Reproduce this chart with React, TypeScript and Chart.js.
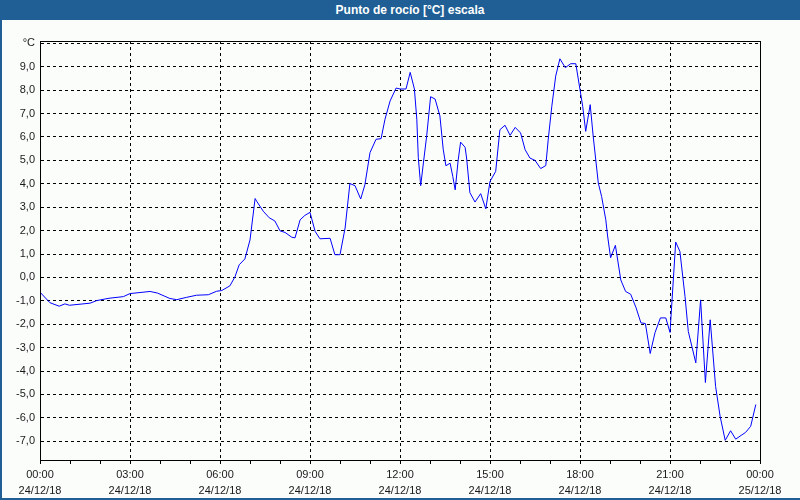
import React, { useEffect, useRef } from "react";
import { Chart, registerables } from "chart.js";

Chart.register(...registerables);

const titleText = "Punto de rocío [°C] escala";

// hours since 24/12/18 00:00
const hours = [
  0.0, 0.33, 0.64, 0.83, 0.98, 1.67, 1.89, 2.3, 2.78, 3.0, 3.67, 3.92, 4.33, 4.56, 4.89, 5.22, 5.61, 5.89,
  6.06, 6.33, 6.5, 6.64, 6.83, 7.0, 7.17, 7.22, 7.44, 7.64, 7.83, 8.0, 8.17, 8.39, 8.5, 8.67, 8.83, 9.0,
  9.17, 9.33, 9.67, 9.83, 10.0, 10.17, 10.33, 10.5, 10.69, 10.83, 11.0, 11.2, 11.37, 11.5, 11.67, 11.87,
  12.0, 12.2, 12.34, 12.48, 12.56, 12.61, 12.69, 12.78, 12.89, 13.02, 13.17, 13.33, 13.44, 13.53, 13.67,
  13.76, 13.84, 13.94, 14.02, 14.17, 14.22, 14.33, 14.5, 14.69, 14.86, 15.0, 15.19, 15.33, 15.5, 15.67,
  15.84, 16.02, 16.17, 16.33, 16.5, 16.69, 16.86, 16.94, 17.06, 17.19, 17.33, 17.51, 17.69, 17.86, 18.0,
  18.09, 18.19, 18.34, 18.44, 18.61, 18.72, 18.86, 18.92, 19.02, 19.18, 19.36, 19.52, 19.69, 19.87, 20.03,
  20.18, 20.34, 20.5, 20.68, 20.86, 21.0, 21.19, 21.33, 21.5, 21.61, 21.86, 22.02, 22.18, 22.34, 22.52,
  22.67, 22.84, 23.02, 23.19, 23.37, 23.52, 23.69, 23.86,
];

const dewPoint = [
  -0.63, -1.08, -1.23, -1.13, -1.19, -1.1, -0.99, -0.89, -0.82, -0.69, -0.6, -0.67, -0.9, -0.95, -0.85,
  -0.76, -0.74, -0.59, -0.56, -0.36, 0.03, 0.54, 0.79, 1.6, 3.37, 3.26, 2.83, 2.55, 2.41, 1.99, 1.92, 1.72,
  1.69, 2.46, 2.65, 2.78, 1.97, 1.65, 1.67, 0.97, 0.97, 2.11, 4.01, 3.92, 3.35, 3.96, 5.33, 5.9, 5.93, 6.76,
  7.54, 8.09, 8.05, 8.05, 8.76, 8.05, 6.76, 5.12, 3.92, 4.89, 6.05, 7.72, 7.62, 6.9, 5.48, 4.77, 4.88, 4.31,
  3.74, 5.02, 5.78, 5.56, 5.1, 3.62, 3.22, 3.58, 2.93, 4.1, 4.53, 6.31, 6.5, 6.07, 6.41, 6.17, 5.46, 5.1,
  5.0, 4.65, 4.78, 5.88, 7.31, 8.6, 9.34, 8.96, 9.13, 9.13, 8.02, 7.31, 6.24, 7.38, 6.03, 4.03, 3.46, 2.46,
  1.77, 0.84, 1.37, -0.11, -0.6, -0.72, -1.3, -1.94, -1.97, -3.25, -2.36, -1.73, -1.73, -2.35, 1.51, 1.11,
  -0.81, -2.31, -3.65, -0.96, -4.49, -1.81, -4.66, -5.93, -6.96, -6.55, -6.91, -6.75, -6.62, -6.36, -5.43,
];

const xTickHours = [0, 3, 6, 9, 12, 15, 18, 21, 24];
const xTickTimes = ["00:00", "03:00", "06:00", "09:00", "12:00", "15:00", "18:00", "21:00", "00:00"];
const xTickDates = ["24/12/18", "24/12/18", "24/12/18", "24/12/18", "24/12/18", "24/12/18", "24/12/18", "24/12/18", "25/12/18"];
const yTickValues = [-7, -6, -5, -4, -3, -2, -1, 0, 1, 2, 3, 4, 5, 6, 7, 8, 9, 10];
const yUnitLabel = "°C";

const FONT = "'Liberation Sans', Arial, sans-serif";
const BLUE_FRAME = "#1f5f95";
const BG = "#fbfdfb";

const boxPlugin = {
  id: "plotBox",
  afterDraw(chart: any) {
    const { ctx, chartArea } = chart;
    ctx.save();
    ctx.strokeStyle = "#000";
    ctx.lineWidth = 1;
    ctx.setLineDash([]);
    const l = Math.round(chartArea.left) + 0.5;
    const t = Math.round(chartArea.top) + 0.5;
    const r = Math.round(chartArea.right) + 0.5;
    const b = Math.round(chartArea.bottom) + 0.5;
    ctx.strokeRect(l, t, r - l, b - t);
    ctx.restore();
  },
};

export default function App() {
  const canvasRef = useRef<HTMLCanvasElement | null>(null);

  useEffect(() => {
    const canvas = canvasRef.current;
    if (!canvas) return;
    const points = hours.map((h, i) => ({ x: h, y: dewPoint[i] }));
    const chart = new Chart(canvas, {
      type: "line",
      data: {
        datasets: [
          {
            data: points,
            borderColor: "#0000ff",
            borderWidth: 1,
            pointRadius: 0,
            tension: 0,
            fill: false,
          },
        ],
      },
      options: {
        animation: false,
        responsive: false,
        maintainAspectRatio: false,
        parsing: false,
        layout: { padding: { top: 21, right: 40, bottom: 0, left: 0 } },
        plugins: {
          legend: { display: false },
          tooltip: { enabled: false },
          title: { display: false },
        },
        scales: {
          x: {
            type: "linear",
            min: 0,
            max: 24,
            afterFit: (s: any) => {
              s.height = 40;
            },
            afterBuildTicks: (s: any) => {
              const arr = [];
              for (let h = 0; h <= 24; h++) arr.push({ value: h });
              s.ticks = arr;
            },
            ticks: {
              autoSkip: false,
              maxRotation: 0,
              minRotation: 0,
              padding: 3,
              color: "#1a1a1a",
              font: { family: FONT, size: 11, lineHeight: 16 / 11 },
              callback: (v: any) => {
                const idx = xTickHours.indexOf(Number(v));
                return idx >= 0 ? [xTickTimes[idx], xTickDates[idx]] : "";
              },
            },
            grid: {
              color: (c: any) => (c.tick && xTickHours.includes(c.tick.value) ? "#000" : "rgba(0,0,0,0)"),
              tickColor: "#000",
              lineWidth: 1,
              tickLength: 4,
              tickBorderDash: [],
              drawTicks: true,
            },
            border: { display: true, color: "#000", width: 1, dash: [3, 3] },
          },
          y: {
            type: "linear",
            min: -7.8,
            max: 10.1,
            afterFit: (s: any) => {
              s.width = 40;
            },
            afterBuildTicks: (s: any) => {
              s.ticks = yTickValues.map((v) => ({ value: v }));
            },
            ticks: {
              padding: 5,
              color: "#1a1a1a",
              font: { family: FONT, size: 11 },
              callback: (v: any) => {
                const n = Number(v);
                if (n === 10) return yUnitLabel;
                return n.toFixed(1).replace(".", ",");
              },
            },
            grid: {
              color: "#000",
              lineWidth: 1,
              drawTicks: false,
            },
            border: { display: true, color: "#000", width: 1, dash: [3, 3] },
          },
        },
      },
      plugins: [boxPlugin],
    });
    return () => chart.destroy();
  }, []);

  return (
    <div
      style={{
        position: "fixed",
        left: 0,
        top: 0,
        width: 800,
        height: 500,
        background: BG,
        overflow: "hidden",
      }}
    >
      <div
        style={{
          position: "absolute",
          left: 0,
          top: 0,
          width: 800,
          height: 20,
          background: BLUE_FRAME,
          color: "#fff",
          fontFamily: FONT,
          fontWeight: "bold",
          fontSize: 12,
          lineHeight: "20px",
          textAlign: "center",
          boxSizing: "border-box",
          paddingLeft: 20,
        }}
      >
        {titleText}
      </div>
      <canvas
        ref={canvasRef}
        width={800}
        height={480}
        style={{ position: "absolute", left: 0, top: 20, width: 800, height: 480 }}
      />
      <div style={{ position: "absolute", left: 0, top: 0, width: 2, height: 500, background: BLUE_FRAME }} />
      <div style={{ position: "absolute", left: 0, top: 498, width: 800, height: 2, background: BLUE_FRAME }} />
    </div>
  );
}
